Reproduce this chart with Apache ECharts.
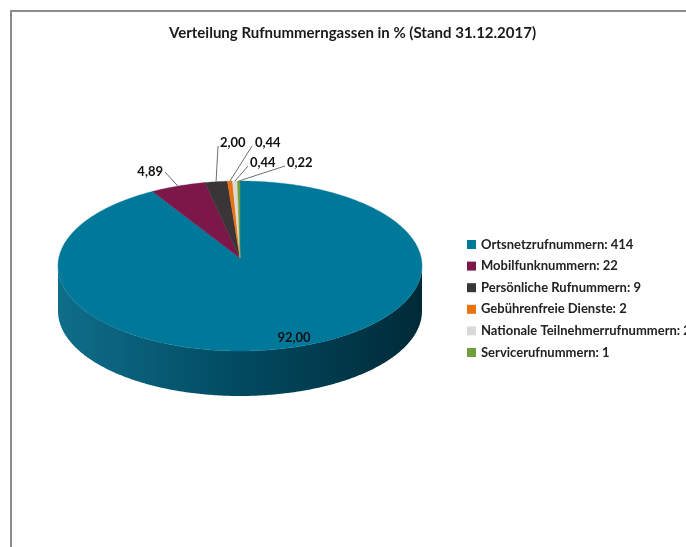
<!DOCTYPE html>
<html>
<head>
<meta charset="utf-8">
<script src="https://cdn.jsdelivr.net/npm/echarts@6/dist/echarts.min.js"></script>
<style>
  html, body { margin: 0; padding: 0; background: #fff; }
  #chart { width: 686px; height: 547px; }
</style>
</head>
<body>
<div id="chart"></div>
<script>
// Kategorien und Werte aus dem Bild
const names = ['Ortsnetzrufnummern', 'Mobilfunknummern', 'Persönliche Rufnummern',
  'Gebührenfreie Dienste', 'Nationale Teilnehmerrufnummern', 'Servicerufnummern'];
const counts = [414, 22, 9, 2, 2, 1];
const shares = [92.00, 4.89, 2.00, 0.44, 0.44, 0.22];
const colors = ['#00789a', '#7c1749', '#3a3536', '#e8730f', '#d9d9d9', '#6f9f3a'];

// Beschriftungen (Position des Textes, Ende der Führungslinie)
const labelSpots = [
  { at: [294, 338], align: 'center', leader: null },
  { at: [163, 172], align: 'right', leader: [165, 172] },
  { at: [220, 143], align: 'left', leader: [218, 146] },
  { at: [255, 143], align: 'left', leader: [252, 146] },
  { at: [250, 163], align: 'left', leader: [248, 166] },
  { at: [287, 163], align: 'left', leader: [285, 166] }
];

const total = shares.reduce((a, b) => a + b, 0);
const TILT = 85 / 182;
const DEPTH = 45;
const APEX_LIFT = 8;
const STEP = 0.2;
const FONT = 'Lato';

let acc = 0;
const ranges = shares.map(s => { const r = [acc, acc + s]; acc += s; return r; });

const sideFill = {
  type: 'linear', x: 0, y: 0, x2: 1, y2: 0,
  colorStops: [
    { offset: 0, color: '#0f6e8b' },
    { offset: 0.45, color: '#024d64' },
    { offset: 1, color: '#002a38' }
  ]
};

function makeRender(i) {
  return function (params, api) {
    const start = api.value(0), end = api.value(1);
    const c = api.coord([0, 0]);
    const squash = p => [p[0], c[1] + (p[1] - c[1]) * TILT];
    const arc = (a, b, dy) => {
      const pts = [];
      const n = Math.max(2, Math.ceil((b - a) / STEP));
      for (let k = 0; k <= n; k++) {
        const p = squash(api.coord([1, a + (b - a) * k / n]));
        pts.push([p[0], p[1] + dy]);
      }
      return pts;
    };
    const apex = [c[0], c[1] - APEX_LIFT];
    const children = [];
    // Seitenwand (nur vorne sichtbar)
    const lo = Math.max(start, total / 4), hi = Math.min(end, total * 3 / 4);
    if (hi > lo) {
      children.push({
        type: 'polygon', z2: 0,
        shape: { points: arc(lo, hi, 0).concat(arc(lo, hi, DEPTH).reverse()) },
        style: { fill: sideFill }
      });
    }
    // Deckfläche
    children.push({
      type: 'polygon', z2: 10,
      shape: { points: [apex].concat(arc(start, end, 0)) },
      style: { fill: colors[i], stroke: colors[i], lineWidth: 0.4 }
    });
    // Beschriftung
    const spot = labelSpots[i];
    if (spot.leader) {
      const anchor = squash(api.coord([1, (start + end) / 2]));
      children.push({
        type: 'polyline', z2: 20,
        shape: { points: [anchor, spot.leader] },
        style: { stroke: '#6f6f6f', lineWidth: 1, fill: null }
      });
    }
    children.push({
      type: 'text', z2: 21,
      style: {
        text: shares[i].toFixed(2).replace('.', ','),
        x: spot.at[0], y: spot.at[1],
        align: spot.align, verticalAlign: 'middle',
        fill: '#111', fontSize: 13, fontWeight: 'bold', fontFamily: FONT
      }
    });
    return { type: 'group', children: children };
  };
}

const chart = echarts.init(document.getElementById('chart'));
chart.setOption({
  animation: false,
  title: {
    text: 'Verteilung Rufnummerngassen in % (Stand 31.12.2017)',
    left: 164, top: 21,
    textStyle: { fontFamily: FONT, fontSize: 15, fontWeight: 'bold', color: '#1a1a1a' }
  },
  legend: {
    orient: 'vertical', left: 462, top: 233,
    icon: 'rect', itemWidth: 9, itemHeight: 9, itemGap: 8.6,
    textStyle: { fontFamily: FONT, fontSize: 13, fontWeight: 'bold', color: '#222' }
  },
  graphic: [{
    type: 'polyline',
    shape: { points: [[11, 547], [11, 11], [686, 11]] },
    style: { stroke: '#8c8c8c', lineWidth: 2, fill: null }
  }],
  polar: { center: [240, 266], radius: 182 },
  angleAxis: { type: 'value', min: 0, max: total, startAngle: 90, clockwise: true, show: false },
  radiusAxis: { type: 'value', min: 0, max: 1, show: false },
  series: names.map((n, i) => ({
    type: 'custom',
    name: n + ': ' + counts[i],
    coordinateSystem: 'polar',
    itemStyle: { color: colors[i] },
    renderItem: makeRender(i),
    data: [ranges[i]]
  }))
});
</script>
</body>
</html>
